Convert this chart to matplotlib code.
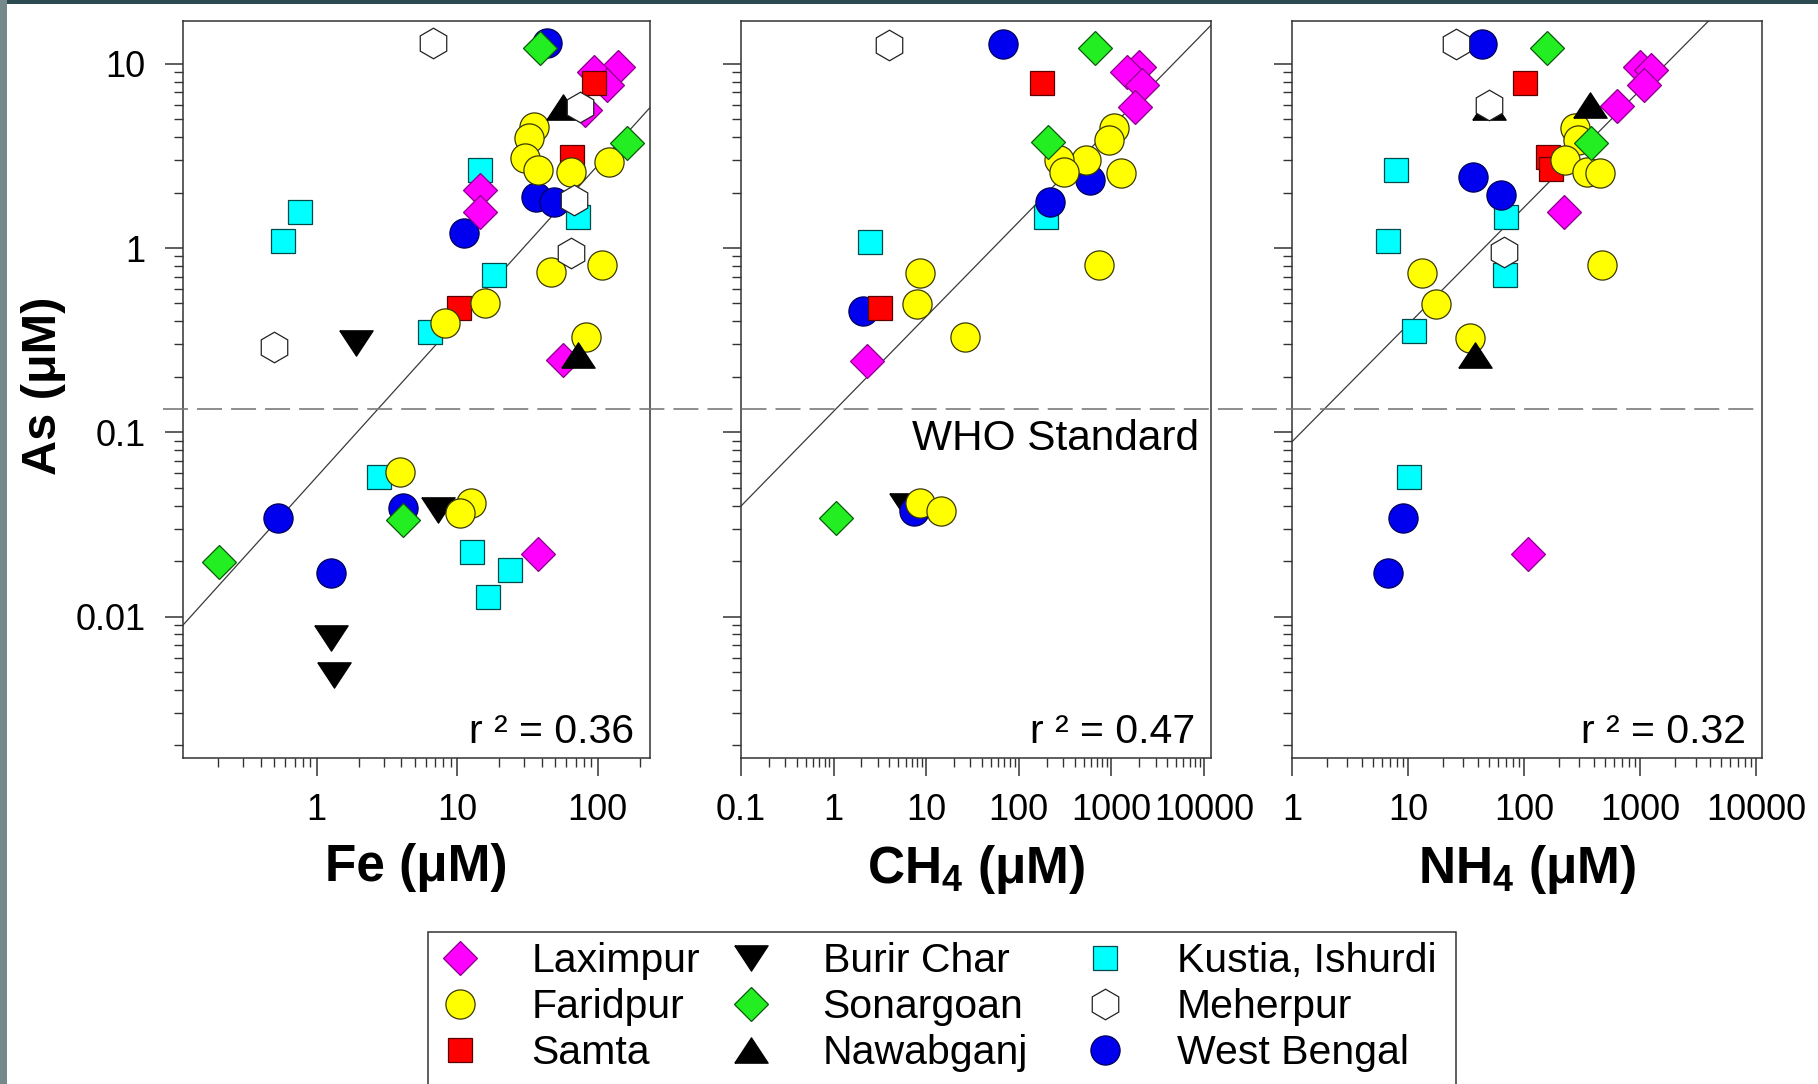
import numpy as np
import matplotlib
matplotlib.use("Agg")
import matplotlib.pyplot as plt
from matplotlib.lines import Line2D
from matplotlib.patches import Rectangle
from matplotlib.ticker import FixedLocator, LogLocator, NullFormatter
import matplotlib.transforms as mtransforms

# ---------------- data ----------------
SITES = ["Laximpur", "Faridpur", "Samta", "Burir Char", "Sonargoan",
         "Nawabganj", "Kustia, Ishurdi", "Meherpur", "West Bengal"]

# Panel 1: As vs Fe
fe_site = (["Laximpur"] * 8 + ["Faridpur"] * 14 + ["Samta"] * 3 + ["Burir Char"] * 4
           + ["Sonargoan"] * 4 + ["Nawabganj"] * 2 + ["Kustia, Ishurdi"] * 10
           + ["Meherpur"] * 5 + ["West Bengal"] * 7)
fe_conc = [140, 94.4, 117, 81.5, 14.6, 14.6, 57.2, 37.7,
           35, 32.5, 30.2, 37.7, 64.2, 121, 46.7, 107, 15.8, 8.2, 82.8, 3.9, 12.6, 10.5,
           94.4, 65.6, 10.3,
           1.9, 7.37, 1.27, 1.33,
           39, 162, 4.13, 0.204,
           56.4, 72.6,
           72.6, 14.6, 0.768, 0.574, 18.4, 6.42, 2.77, 12.8, 23.9, 16.6,
           6.75, 75, 67.7, 65, 0.496,
           43.6, 36.3, 48.6, 11.2, 4.1, 0.53, 1.27]
fe_as = [9.63, 9.05, 7.66, 5.6, 2.06, 1.57, 0.247, 0.0219,
         4.55, 3.94, 3.07, 2.65, 2.6, 2.94, 0.743, 0.81, 0.5, 0.39, 0.33, 0.061, 0.0412, 0.0363,
         7.83, 3.13, 0.471,
         0.304, 0.0379, 0.0077, 0.0048,
         12.1, 3.7, 0.0334, 0.0199,
         5.85, 0.263,
         1.48, 2.65, 1.57, 1.096, 0.714, 0.352, 0.0574, 0.0225, 0.0179, 0.0128,
         12.9, 5.85, 1.82, 0.936, 0.291,
         12.9, 1.9, 1.78, 1.2, 0.0387, 0.0341, 0.0172]

# Panel 2: As vs CH4
ch4_site = (["Laximpur"] * 5 + ["Faridpur"] * 12 + ["Samta"] * 2 + ["Burir Char"] * 1
            + ["Sonargoan"] * 3 + ["Kustia, Ishurdi"] * 2 + ["Meherpur"] * 1
            + ["West Bengal"] * 5)
ch4_conc = [2000, 1463, 2140, 1800, 2.31,
            1080, 935, 538, 272, 305, 1270, 735, 8.57, 8.04, 26.1, 8.57, 14.5,
            177, 3.16,
            6.0,
            670, 208, 1.06,
            198, 2.49,
            3.94,
            67.5, 582, 218, 2.1, 7.43]
ch4_as = [9.6, 9.05, 7.66, 5.85, 0.244,
          4.46, 3.85, 3.0, 3.0, 2.6, 2.56, 0.81, 0.73, 0.497, 0.328, 0.0412, 0.0372,
          7.83, 0.471,
          0.040,
          12.2, 3.77, 0.0341,
          1.48, 1.08,
          12.6,
          12.8, 2.34, 1.78, 0.457, 0.0372]

# Panel 3: As vs NH4
nh4_site = (["Laximpur"] * 6 + ["Faridpur"] * 9 + ["Samta"] * 3 + ["Sonargoan"] * 2
            + ["Nawabganj"] * 3 + ["Kustia, Ishurdi"] * 6 + ["Meherpur"] * 3
            + ["West Bengal"] * 5)
nh4_conc = [996, 1237, 1070, 637, 222, 107,
            273, 293, 223, 351, 451, 468, 13.3, 17.4, 33.9,
            102, 160, 170,
            159, 377,
            372, 50, 37.7,
            7.9, 69.5, 6.73, 68.6, 11.3, 10.1,
            25.8, 50.2, 67,
            43.6, 36.4, 63.4, 8.97, 6.73]
nh4_as = [9.6, 9.2, 7.66, 5.9, 1.57, 0.0219,
          4.46, 3.85, 3.0, 2.6, 2.56, 0.81, 0.73, 0.497, 0.324,
          7.83, 3.1, 2.7,
          12.2, 3.7,
          5.97, 5.8, 0.263,
          2.65, 1.48, 1.096, 0.714, 0.356, 0.0574,
          12.8, 5.97, 0.955,
          12.8, 2.44, 1.94, 0.0341, 0.0172]

# log-log regression fits: (intercept, slope) of log10(As) vs log10(X)
fe_fit = (-1.243, 0.845)
ch4_fit = (-0.886, 0.514)
nh4_fit = (-1.051, 0.636)
r2_labels = ["r \u00b2 = 0.36", "r \u00b2 = 0.47", "r \u00b2 = 0.32"]
WHO_LIMIT = 0.133

y_ticks = [0.01, 0.1, 1, 10]
y_tick_labels = ["0.01", "0.1", "1", "10"]
fe_ticks = [1, 10, 100]
fe_tick_labels = ["1", "10", "100"]
ch4_ticks = [0.1, 1, 10, 100, 1000, 10000]
ch4_tick_labels = ["0.1", "1", "10", "100", "1000", "10000"]
nh4_ticks = [1, 10, 100, 1000, 10000]
nh4_tick_labels = ["1", "10", "100", "1000", "10000"]

# ---------------- styles ----------------
plt.rcParams["font.family"] = ["Liberation Sans", "DejaVu Sans"]
plt.rcParams["mathtext.fontset"] = "custom"
plt.rcParams["mathtext.rm"] = "Liberation Sans"
plt.rcParams["mathtext.bf"] = "Liberation Sans:bold"
plt.rcParams["lines.scale_dashes"] = False

tri_down = [(-1, 0.76), (1, 0.76), (0, -0.76), (-1, 0.76)]
tri_up = [(-1, -0.76), (1, -0.76), (0, 0.76), (-1, -0.76)]
STYLE = {
    "Laximpur":        dict(marker="D", ms=17.5, mfc="#FF00FF", mec="#8a008a"),
    "Faridpur":        dict(marker="o", ms=21, mfc="#FFFF00", mec="#3a3a00"),
    "Samta":           dict(marker="s", ms=17.5, mfc="#FF0000", mec="#5a0000"),
    "Burir Char":      dict(marker=tri_down, ms=24, mfc="#000000", mec="#000000"),
    "Sonargoan":       dict(marker="D", ms=17.5, mfc="#22EE22", mec="#0a5a0a"),
    "Nawabganj":       dict(marker=tri_up, ms=24, mfc="#000000", mec="#000000"),
    "Kustia, Ishurdi": dict(marker="s", ms=17.5, mfc="#00FFFF", mec="#004a4a"),
    "Meherpur":        dict(marker="h", ms=22, mfc="#FFFFFF", mec="#222222"),
    "West Bengal":     dict(marker="o", ms=21, mfc="#0000EE", mec="#00005a"),
}
DRAW_ORDER = ["Burir Char", "Kustia, Ishurdi", "West Bengal", "Laximpur", "Samta",
              "Faridpur", "Nawabganj", "Meherpur", "Sonargoan"]

W, H = 1818, 1084
def fx(px):
    return px / W
def fy(py):
    return 1 - py / H

fig = plt.figure(figsize=(W / 100, H / 100), dpi=100)
fig.patch.set_facecolor("white")

# decorative border strips of the original slide
fig.add_artist(Rectangle((0, fy(4)), 1, 4 / H, transform=fig.transFigure,
                         facecolor="#2c4a50", edgecolor="none", zorder=-5))
fig.add_artist(Rectangle((0, 0), 7 / W, 1, transform=fig.transFigure,
                         facecolor="#75898a", edgecolor="none", zorder=-5))

top_px, bot_px = 21, 758
panel_px = [(183, 650), (741, 1211), (1292, 1762)]
xlims = [(0.1122, 236), (0.1, 11900), (1, 11220)]
ylim = (0.00171, 17.05)

panels = [
    (fe_site, fe_conc, fe_as, fe_fit, fe_ticks, fe_tick_labels, "Fe (\u03bcM)"),
    (ch4_site, ch4_conc, ch4_as, ch4_fit, ch4_ticks, ch4_tick_labels, "CH$_{\\mathbf{4}}$ (\u03bcM)"),
    (nh4_site, nh4_conc, nh4_as, nh4_fit, nh4_ticks, nh4_tick_labels, "NH$_{\\mathbf{4}}$ (\u03bcM)"),
]

spine_col = "#333333"
axes = []
for i, (sites, xs, ys, fit, xt, xtl, xlabel) in enumerate(panels):
    l, r = panel_px[i]
    ax = fig.add_axes([fx(l), fy(bot_px), (r - l) / W, (bot_px - top_px) / H])
    axes.append(ax)
    ax.set_xscale("log")
    ax.set_yscale("log")
    ax.set_xlim(*xlims[i])
    ax.set_ylim(*ylim)

    sites_arr = np.array(sites)
    xs_arr = np.array(xs, dtype=float)
    ys_arr = np.array(ys, dtype=float)
    for z, site in enumerate(DRAW_ORDER):
        m = sites_arr == site
        if not m.any():
            continue
        st = STYLE[site]
        ax.plot(xs_arr[m], ys_arr[m], linestyle="none", marker=st["marker"],
                ms=st["ms"], mfc=st["mfc"], mec=st["mec"], mew=0.9,
                zorder=3 + z * 0.1, clip_on=False)

    # regression line
    xl = np.array(xlims[i])
    a, b = fit
    ax.plot(xl, 10 ** (a + b * np.log10(xl)), color="#3a3a3a", lw=0.9, zorder=2.5)

    ax.text(0.966, 0.0204, r2_labels[i], transform=ax.transAxes, ha="right",
            va="baseline", fontsize=29.5)

    for s in ax.spines.values():
        s.set_color(spine_col)
        s.set_linewidth(1.1)

    ax.yaxis.set_major_locator(FixedLocator(y_ticks))
    ax.yaxis.set_minor_locator(LogLocator(base=10, subs=np.arange(2, 10), numticks=30))
    ax.yaxis.set_minor_formatter(NullFormatter())
    ax.set_yticks(y_ticks, labels=y_tick_labels)
    ax.xaxis.set_major_locator(FixedLocator(xt))
    ax.xaxis.set_minor_locator(LogLocator(base=10, subs=np.arange(2, 10), numticks=30))
    ax.xaxis.set_minor_formatter(NullFormatter())
    ax.set_xticks(xt, labels=xtl)

    ax.tick_params(which="major", direction="out", length=13, width=1.1,
                   color=spine_col, labelsize=26, pad=14)
    ax.tick_params(which="minor", direction="out", length=6.5, width=1.0,
                   color=spine_col)
    ax.tick_params(top=False, right=False)
    ax.tick_params(axis="x", which="major", pad=12)
    if i > 0:
        ax.tick_params(axis="y", labelleft=False)

    ax.set_xlabel(xlabel, fontsize=37, fontweight="bold")
    ax.xaxis.set_label_coords(0.5, -0.115)

axes[0].set_ylabel("As (\u03bcM)", fontsize=35, fontweight="bold")
axes[0].yaxis.set_label_coords(-0.25, 0.505)

axes[1].text(0.974, 0.418, "WHO Standard", transform=axes[1].transAxes,
             ha="right", va="baseline", fontsize=30.5)

# WHO standard dashed line across all panels
blend = mtransforms.blended_transform_factory(fig.transFigure, axes[0].transData)
fig.add_artist(Line2D([fx(163), fx(1762)], [WHO_LIMIT, WHO_LIMIT], transform=blend,
                      color="#7a7a7a", lw=1.2, dashes=(18, 6.5), zorder=5))

# legend: three columns inside a frame
col_marker_px = [460, 751, 1105]
fs_leg = 29.5
em_px = fs_leg * 100 / 72
for c in range(3):
    names = SITES[c * 3:(c + 1) * 3]
    handles = [Line2D([], [], linestyle="none", marker=STYLE[n]["marker"],
                      ms=STYLE[n]["ms"], mfc=STYLE[n]["mfc"], mec=STYLE[n]["mec"],
                      mew=0.9) for n in names]
    fig.legend(handles, names, loc="upper left",
               bbox_to_anchor=(fx(col_marker_px[c] - em_px / 2), fy(942)),
               bbox_transform=fig.transFigure, frameon=False, borderpad=0,
               borderaxespad=0, handlelength=1.0, handletextpad=1.25,
               labelspacing=0.2, fontsize=fs_leg)

fig.add_artist(Rectangle((fx(428), fy(1095)), (1456 - 428) / W, (1095 - 932) / H,
                         transform=fig.transFigure, fill=False,
                         edgecolor="#333333", lw=1.1))

fig.savefig("out.png", dpi=100, facecolor="white")
